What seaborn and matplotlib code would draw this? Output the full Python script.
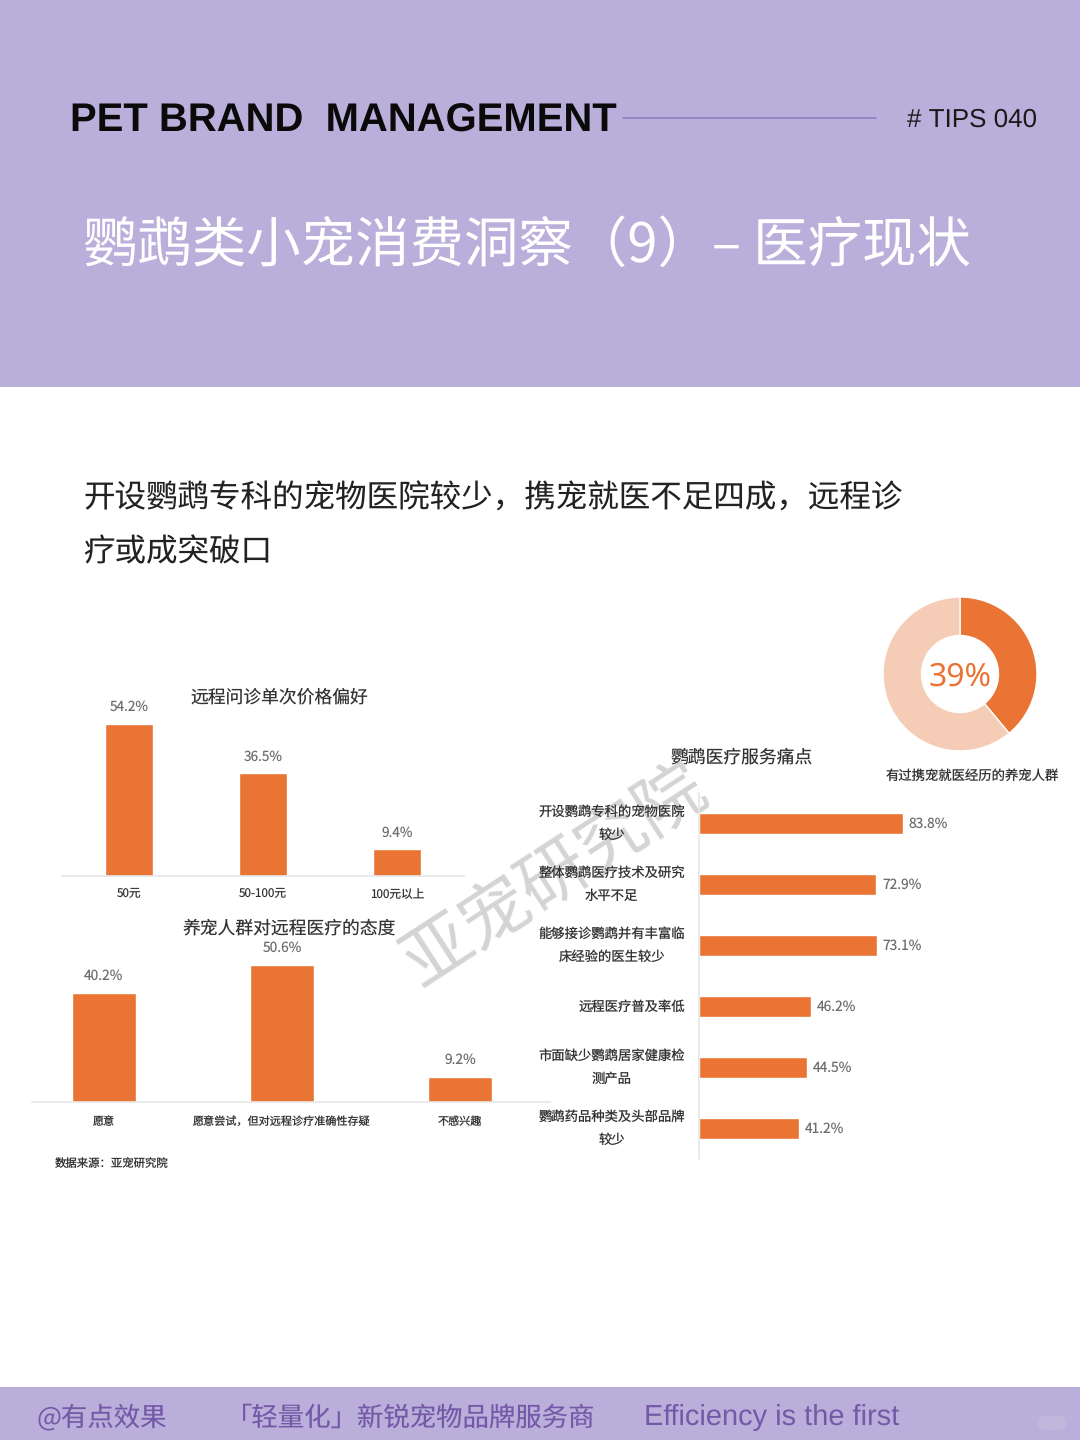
import matplotlib
matplotlib.use('Agg')
import matplotlib.pyplot as plt
from matplotlib.patches import Rectangle, FancyBboxPatch
import seaborn as sns

# --- data ---
price_labels = ['50元', '50-100元', '100元以上']
price_values = [54.2, 36.5, 9.4]

attitude_labels = ['愿意', '愿意尝试，但对远程诊疗准确性存疑', '不感兴趣']
attitude_values = [40.2, 50.6, 9.2]

pain_labels = [
    '开设鹦鹉专科的宠物医院\n较少',
    '整体鹦鹉医疗技术及研究\n水平不足',
    '能够接诊鹦鹉并有丰富临\n床经验的医生较少',
    '远程医疗普及率低',
    '市面缺少鹦鹉居家健康检\n测产品',
    '鹦鹉药品种类及头部品牌\n较少',
]
pain_values = [83.8, 72.9, 73.1, 46.2, 44.5, 41.2]

donut_values = [39, 61]

# --- colours ---
PURPLE = '#B9AFDA'
ORANGE = '#E97433'
PEACH = '#F5CCB6'
GRAY_TXT = '#6E6E6E'
DARK_TXT = '#333333'
AXIS_LINE = '#E6E6E6'
FOOT_TXT = '#7459A8'

W, H = 1080, 1440
sns.set_theme(style='white')
CJK = ['Noto Sans CJK SC', 'DejaVu Sans']
LATIN = ['Liberation Sans', 'DejaVu Sans']
plt.rcParams['font.family'] = CJK
plt.rcParams['text.hinting'] = 'no_hinting'
plt.rcParams['text.hinting_factor'] = 1

fig = plt.figure(figsize=(W / 100, H / 100), dpi=100, facecolor='white')


def px_axes(left, top, right, bottom):
    ax = fig.add_axes([left / W, 1 - bottom / H, (right - left) / W, (bottom - top) / H])
    ax.patch.set_alpha(0)
    return ax


# background bands and header text, in pixel coordinates
bg = px_axes(0, 0, W, H)
bg.set_xlim(0, W)
bg.set_ylim(H, 0)
bg.axis('off')
bg.add_patch(Rectangle((0, 0), W, 387, color=PURPLE, lw=0))
bg.add_patch(Rectangle((0, 1387), W, 53, color=PURPLE, lw=0))
bg.add_patch(FancyBboxPatch((1038, 1416), 28, 14, boxstyle='round,pad=0,rounding_size=6',
                            fc='white', ec='none', alpha=0.1))
bg.plot([623, 876], [118, 118], color='#8B7FC6', lw=1.2)

bg.text(70, 121, 'PET BRAND  MANAGEMENT', family=LATIN, fontsize=28.45, fontweight='bold',
        color='#0A0A0A', va='center', ha='left')
bg.text(1037, 120, '# TIPS 040', family=LATIN, fontsize=18.9, color='#1A1A1A', va='center', ha='right')
bg.text(83, 246, '鹦鹉类小宠消费洞察（9）– 医疗现状', fontsize=39.2, color='white', va='center', ha='left')
bg.text(83, 499, '开设鹦鹉专科的宠物医院较少，携宠就医不足四成，远程诊', fontsize=22.7,
        color='#222222', va='center', ha='left')
bg.text(83, 552, '疗或成突破口', fontsize=22.7, color='#222222', va='center', ha='left')

bg.text(37, 1418, '@有点效果', fontsize=19, color=FOOT_TXT, va='center', ha='left')
bg.text(226, 1418, '「轻量化」新锐宠物品牌服务商', fontsize=19, color=FOOT_TXT, va='center', ha='left')
bg.text(644, 1417, 'Efficiency is the first', family=LATIN, fontsize=21.05, color=FOOT_TXT, va='center', ha='left')

bg.text(279.5, 697, '远程问诊单次价格偏好', fontsize=12.8, color=DARK_TXT, va='center', ha='center')
bg.text(289.5, 928, '养宠人群对远程医疗的态度', fontsize=12.8, color=DARK_TXT, va='center', ha='center')
bg.text(742, 757, '鹦鹉医疗服务痛点', fontsize=12.8, color=DARK_TXT, va='center', ha='center')
bg.text(972.5, 776, '有过携宠就医经历的养宠人群', fontsize=9.6, color=DARK_TXT, va='center', ha='center')
bg.text(55, 1165, '数据来源：亚宠研究院', fontsize=8.2, color=DARK_TXT, va='center', ha='left')

# watermark sits under the chart axes so labels stay dark
bg.text(556, 876, '亚宠研究院', fontsize=50, color='#D4D4D4',
        rotation=33, rotation_mode='anchor', ha='center', va='center')


def style_axes(ax, keep):
    sns.despine(ax=ax, left=True, bottom=True, top=True, right=True)
    ax.spines[keep].set_visible(True)
    ax.spines[keep].set_color(AXIS_LINE)
    ax.spines[keep].set_linewidth(1.2)
    ax.set_xlabel('')
    ax.set_ylabel('')


# --- price bars ---
ax1 = px_axes(62, 690, 464, 875.5)
sns.barplot(x=price_labels, y=price_values, color=ORANGE, saturation=1, width=0.358, ax=ax1)
ax1.set_ylim(0, 185.5 / 2.795)
ax1.set_xlim(-0.5, 2.5)
ax1.set_yticks([])
style_axes(ax1, 'bottom')
ax1.tick_params(axis='x', length=0, pad=9, labelsize=8.4, labelcolor=DARK_TXT)
ax1.bar_label(ax1.containers[0], fmt='%.1f%%', padding=7, fontsize=9.8, color=GRAY_TXT)

# --- attitude bars ---
ax2 = px_axes(32, 935, 550, 1102)
sns.barplot(x=attitude_labels, y=attitude_values, color=ORANGE, saturation=1, width=0.354, ax=ax2)
ax2.set_ylim(0, 167 / 2.707)
ax2.set_xlim((32 - 104) / 178, (550 - 104) / 178)
ax2.set_yticks([])
style_axes(ax2, 'bottom')
ax2.tick_params(axis='x', length=0, pad=10, labelsize=8, labelcolor=DARK_TXT)
ax2.bar_label(ax2.containers[0], fmt='%.1f%%', padding=7, fontsize=9.9, color=GRAY_TXT)

# --- pain point bars ---
ax3 = px_axes(699, 793, 1000, 1159)
sns.barplot(x=pain_values, y=pain_labels, color=ORANGE, saturation=1, width=0.34, orient='h', ax=ax3)
ax3.set_xlim(0, 301 / 2.434)
ax3.set_ylim(5.5, -0.5)
ax3.set_xticks([])
style_axes(ax3, 'left')
ax3.tick_params(axis='y', length=0, pad=10, labelsize=9.6, labelcolor=DARK_TXT)
for lab in ax3.get_yticklabels():
    lab.set_multialignment('center')
    lab.set_linespacing(1.8)
    lab.set_verticalalignment('center')
ax3.bar_label(ax3.containers[0], fmt='%.1f%%', padding=4, fontsize=9.9, color=GRAY_TXT)

# --- donut ---
ax4 = px_axes(880, 594, 1040, 754)
ax4.pie(donut_values, colors=[ORANGE, PEACH], startangle=90, counterclock=False, radius=1,
        wedgeprops=dict(width=0.5, edgecolor='white', linewidth=1.0))
ax4.set_xlim(-80 / 77, 80 / 77)
ax4.set_ylim(-80 / 77, 80 / 77)
ax4.text(0, -0.05, '39%', family=['Noto Sans', 'DejaVu Sans'], fontsize=23, color=ORANGE,
         ha='center', va='center')

fig.savefig('out.png', dpi=100)
